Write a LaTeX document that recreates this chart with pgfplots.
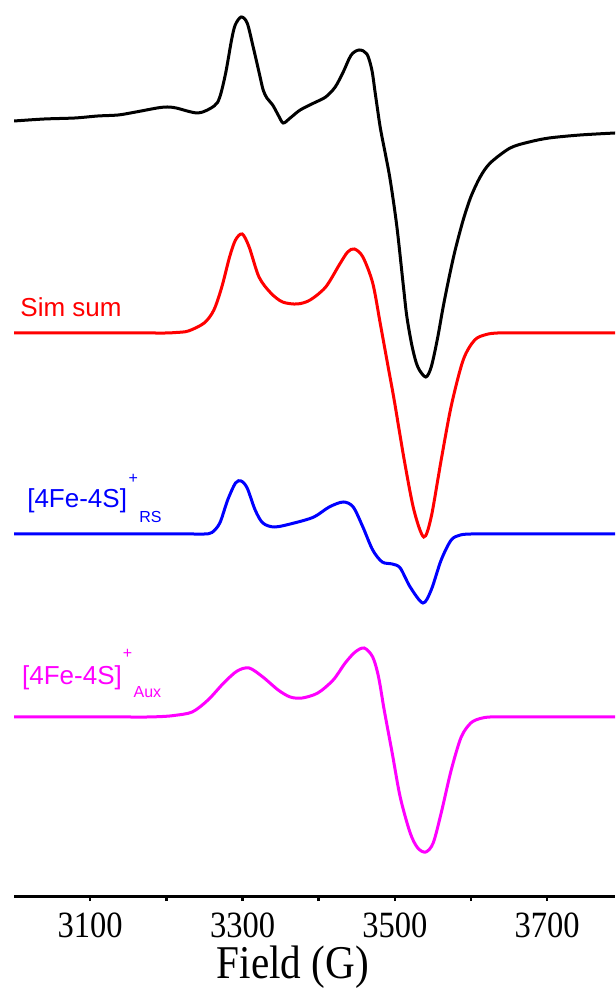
\documentclass[border=0pt]{standalone}
\usepackage{pgfplots}
\pgfplotsset{compat=1.18}
\usepackage{fontspec}
\setmainfont{Liberation Serif}
\setsansfont{Liberation Sans}
\definecolor{cred}{RGB}{255,0,0}
\definecolor{cblue}{RGB}{0,0,255}
\definecolor{cmag}{RGB}{255,0,255}
\newcommand{\vs}[1]{\scalebox{1}[1.14]{#1}}
\begin{document}
\begin{tikzpicture}
\begin{axis}[
  scale only axis, width=300.5pt, height=448pt,
  xmin=3000, xmax=3789, ymin=0, ymax=896,
  axis y line=none, axis x line*=bottom,
  axis line style={line width=1.5pt},
  xtick={3100,3200,3300,3400,3500,3600,3700},
  xticklabels={\vs{3100},,\vs{3300},,\vs{3500},,\vs{3700}},
  tick align=outside, major tick length=2.5pt,
  xtick style={line width=1.2pt, black},
  /pgf/number format/assume math mode=true,
  xticklabel style={font=\fontsize{16.25}{18}\selectfont, inner sep=0.5pt, yshift=-5.4pt},
  xlabel={\vs{Field (G)}},
  xlabel style={font=\fontsize{20.6}{24}\selectfont, inner sep=0pt, at={(axis description cs:0.4639,0)}, anchor=base, yshift=-41pt},
  every axis plot/.append style={line width=1.5pt, smooth, tension=0.5, no markers},
]
\coordinate (BL) at (rel axis cs:0,0);
\coordinate (TR) at (rel axis cs:1,1);
% experimental
\addplot[black] coordinates {
(3000.2,775) (3040,777) (3080,778) (3110,780) (3136.8,781) (3160,784) (3188.0,788) (3201.1,789) (3212.9,788) (3241.8,783)
(3262.8,790) (3270.2,799) (3277.9,823) (3285.6,856) (3290.4,871) (3298.2,879)
(3306.1,873) (3314.0,849) (3321.9,823) (3327.1,806) (3332.0,798) (3339.6,791)
(3346.8,781) (3353.4,773) (3362.6,778) (3375.7,786) (3393.7,793) (3409.2,799)
(3421.7,809) (3432.2,824) (3442.7,841) (3453.2,846) (3463.3,842) (3469.8,826)
(3474.2,803) (3480.7,769) (3487.3,743) (3493.9,716) (3502.7,669) (3511.3,609)
(3515.8,579) (3522.8,549) (3530.1,529) (3540.5,519) (3547.7,529) (3555.6,556)
(3563.4,589) (3571.3,619) (3579.2,646) (3589.7,676) (3599.7,699) (3612.0,719)
(3625.2,733) (3651.4,748) (3676.4,754) (3702.6,758) (3743.3,761) (3789.3,763)
};
% Sim sum
\addplot[cred] coordinates {
(3000.2,563) (3050,563) (3100,563) (3150,563) (3180,563) (3200,563) (3212.9,563.5) (3228.9,565) (3249.7,573) (3262.4,586) (3272.8,609)
(3283.0,639) (3290.8,656) (3299.6,662) (3308.7,649) (3321.6,619) (3337.1,603)
(3352.6,594) (3371.8,592) (3388.8,596) (3409.2,609) (3426.9,631) (3438,644) (3447,647)
(3458.0,639) (3470.9,613) (3480.7,573) (3491.2,529) (3499.1,496) (3512.3,436)
(3525.0,386) (3537.9,359) (3547.7,379) (3560.8,436) (3574.0,490) (3589.7,536)
(3604.8,556) (3620,561.5) (3635,563) (3660,563) (3700,563) (3750,563) (3789.3,563)
};
% RS
\addplot[cblue] coordinates {
(3000.2,362) (3050,362) (3100,362) (3150,362) (3200,362) (3235,362) (3250,362) (3259.9,363.5) (3270.2,373) (3280.5,396) (3290.8,413) (3298.2,415)
(3306.1,408) (3316.6,386) (3326.7,373) (3342.2,369) (3367.8,373) (3393.7,379)
(3413.8,389) (3432.2,394) (3445.3,389) (3458.0,369) (3470.9,346) (3483.4,334)
(3496.5,332) (3507.0,328) (3520.1,309) (3536.8,293) (3547.7,306) (3560.8,336)
(3574.0,356) (3586,361) (3600,362) (3620,362) (3660,362) (3700,362) (3750,362) (3789.3,362)
};
% Aux
\addplot[cmag] coordinates {
(3000.2,179) (3050,179) (3100,179) (3150,179) (3175,179) (3195,179.5) (3210,180.5) (3233.9,184) (3254.7,196) (3275.3,213) (3293.0,225)
(3308.7,228) (3326.7,219) (3346.8,206) (3362.6,199) (3378.3,198) (3398.8,203)
(3419.0,216) (3434.8,233) (3447.9,244) (3459.7,248) (3470.9,239) (3478.6,219)
(3486.0,186) (3496.5,143) (3507.0,99) (3520.1,63) (3530.1,48) (3540.5,44)
(3550.3,53) (3560.8,83) (3574.0,126) (3587.1,159) (3599.7,173) (3612,177.5) (3625,179) (3650,179) (3700,179) (3750,179)
(3789.3,179)
};
\node[anchor=base west, inner sep=0pt, text=cred, font=\sffamily\fontsize{13}{15}\selectfont] at (axis cs:3008,579) {Sim sum};
\node[anchor=base west, inner sep=0pt, text=cblue, font=\sffamily\fontsize{13}{15}\selectfont] at (axis cs:3016.9,388.5) {[4Fe-4S]};
\node[inner sep=0pt, text=cblue, font=\sffamily\fontsize{8}{9}\selectfont] at (axis cs:3156.5,417) {+};
\node[anchor=base west, inner sep=0pt, text=cblue, font=\sffamily\fontsize{8}{9}\selectfont] at (axis cs:3164,373) {RS};
\node[anchor=base west, inner sep=0pt, text=cmag, font=\sffamily\fontsize{13}{15}\selectfont] at (axis cs:3010.2,211.5) {[4Fe-4S]};
\node[inner sep=0pt, text=cmag, font=\sffamily\fontsize{8}{9}\selectfont] at (axis cs:3149,242) {+};
\node[anchor=base west, inner sep=0pt, text=cmag, font=\sffamily\fontsize{8}{9}\selectfont] at (axis cs:3156.5,198) {Aux};
\end{axis}
\pgfresetboundingbox
\path[use as bounding box] ([xshift=-7pt,yshift=-46pt]BL) rectangle (TR);
\end{tikzpicture}
\end{document}
